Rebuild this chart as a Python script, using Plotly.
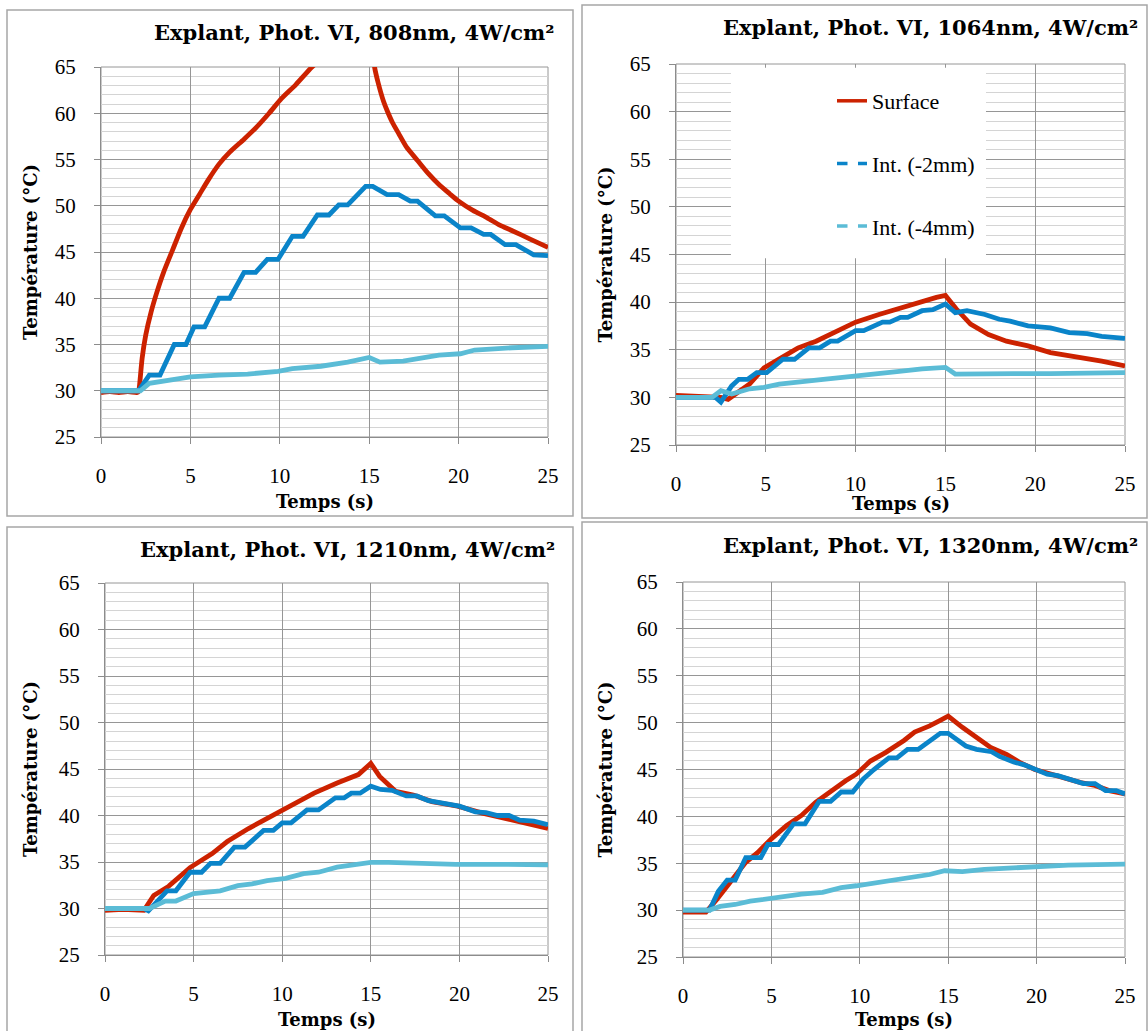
import plotly.graph_objects as go

# ---------------------------------------------------------------------------
# data (time in s, temperature in °C)
# ---------------------------------------------------------------------------
series_names = ["Surface", "Int. (-2mm)", "Int. (-4mm)"]
panel_titles = [
    "Explant, Phot. VI, 808nm, 4W/cm²",
    "Explant, Phot. VI, 1064nm, 4W/cm²",
    "Explant, Phot. VI, 1210nm, 4W/cm²",
    "Explant, Phot. VI, 1320nm, 4W/cm²",
]
x_ticks = [0, 5, 10, 15, 20, 25]
y_ticks = [25, 30, 35, 40, 45, 50, 55, 60, 65]

# 808 nm (surface goes off the top of the chart, peak estimated)
t_808_surf = [0, 0.5, 1.0, 1.5, 2.0, 2.1, 2.15, 2.3, 2.5, 2.8, 3.1, 3.5, 4.0, 4.5, 5.0, 5.5, 6.0,
              6.6, 7.2, 8.0, 8.7, 9.4, 10.1, 10.9, 11.8, 13.0, 14.0, 15.0, 15.3, 15.5, 15.8, 16.0,
              16.3, 16.65, 17.1, 17.7, 18.3, 18.9, 19.5, 20.0, 20.8, 21.6, 22.3, 23.0, 24.0, 25.0]
temp_808_surf = [29.8, 29.9, 29.8, 29.9, 29.8, 29.9, 30.5, 33.5, 36.0, 38.5, 40.5, 42.8, 45.2,
                 47.6, 49.6, 51.2, 52.8, 54.5, 55.8, 57.2, 58.5, 60.0, 61.6, 63.1, 65.0, 67.0,
                 68.6, 70.0, 65.0, 63.3, 61.3, 60.3, 59.0, 57.8, 56.3, 54.9, 53.5, 52.3, 51.3,
                 50.5, 49.5, 48.7, 47.9, 47.3, 46.4, 45.5]
t_808_int2 = [0, 1, 2.1, 2.7, 3.3, 4.1, 4.75, 5.2, 5.8, 6.6, 7.2, 8.0, 8.65, 9.3, 9.9, 10.7, 11.3,
              12.1, 12.75, 13.3, 13.8, 14.8, 15.2, 16.0, 16.65, 17.3, 17.7, 18.7, 19.2, 20.1, 20.7,
              21.4, 21.8, 22.6, 23.2, 24.2, 25.0]
temp_808_int2 = [30.0, 30.0, 30.0, 31.7, 31.7, 35.0, 35.0, 36.9, 36.9, 40.0, 40.0, 42.8, 42.8, 44.2,
                 44.2, 46.7, 46.7, 49.0, 49.0, 50.1, 50.1, 52.1, 52.1, 51.2, 51.2, 50.5, 50.5, 48.9,
                 48.9, 47.6, 47.6, 46.9, 46.9, 45.8, 45.8, 44.7, 44.6]
t_808_int4 = [0, 2.2, 2.7, 3.7, 5.0, 6.6, 8.2, 9.9, 10.7, 12.3, 13.8, 15.0, 15.6, 16.9, 17.9, 18.9,
              20.1, 20.9, 23.0, 25.0]
temp_808_int4 = [30.0, 30.0, 30.8, 31.1, 31.5, 31.7, 31.8, 32.1, 32.4, 32.65, 33.1, 33.6, 33.1, 33.2,
                 33.5, 33.85, 34.0, 34.4, 34.65, 34.8]

# 1064 nm
t_1064_surf = [0, 1, 2.0, 2.5, 2.9, 3.3, 4.1, 4.9, 5.75, 6.8, 7.8, 8.8, 10.0, 11.3, 12.3, 13.5, 14.5,
               15.0, 15.6, 16.4, 17.4, 18.4, 19.6, 20.85, 22.5, 23.7, 25.0]
temp_1064_surf = [30.2, 30.1, 30.1, 30.0, 29.8, 30.35, 31.4, 33.1, 34.0, 35.2, 35.9, 36.8, 37.9, 38.7,
                  39.3, 39.9, 40.5, 40.7, 39.3, 37.7, 36.6, 35.9, 35.4, 34.7, 34.2, 33.8, 33.3]
t_1064_int2 = [0, 2.2, 2.5, 3.1, 3.5, 4.0, 4.5, 5.05, 5.95, 6.6, 7.4, 8.0, 8.6, 9.0, 10.0, 10.45,
               11.5, 11.9, 12.5, 12.9, 13.7, 14.3, 15.0, 15.55, 16.2, 17.2, 18.0, 18.6, 19.6, 20.85,
               21.9, 22.9, 23.7, 25.0]
temp_1064_int2 = [30.0, 30.0, 29.5, 31.2, 31.9, 31.9, 32.6, 32.6, 34.0, 34.0, 35.2, 35.2, 35.9, 35.9,
                  37.0, 37.0, 37.9, 37.9, 38.4, 38.4, 39.1, 39.2, 39.8, 38.9, 39.1, 38.7, 38.2, 38.0,
                  37.5, 37.3, 36.8, 36.7, 36.4, 36.2]
t_1064_int4 = [0, 2.0, 2.5, 3.1, 4.1, 4.9, 5.75, 7.0, 8.2, 9.8, 11.1, 12.3, 13.7, 15.0, 15.55, 16.8,
               18.8, 20.85, 22.9, 25.0]
temp_1064_int4 = [30.0, 30.0, 30.7, 30.35, 30.9, 31.05, 31.4, 31.6, 31.9, 32.2, 32.4, 32.7, 33.0,
                  33.15, 32.45, 32.5, 32.5, 32.5, 32.6, 32.6]

# 1210 nm
t_1210_surf = [0, 1, 2.2, 2.75, 3.6, 4.8, 6.05, 6.9, 8.1, 9.4, 10.6, 11.8, 13.1, 14.3, 15.0, 15.5,
               16.4, 17.4, 18.45, 19.9, 21.3, 22.6, 23.8, 25.0]
temp_1210_surf = [29.8, 29.9, 29.8, 31.4, 32.4, 34.4, 35.9, 37.2, 38.6, 39.9, 41.2, 42.4, 43.5, 44.4,
                  45.6, 44.2, 42.6, 42.2, 41.5, 41.0, 40.25, 39.7, 39.2, 38.6]
t_1210_int2 = [0, 2.2, 2.45, 2.95, 3.5, 4.0, 4.8, 5.45, 5.95, 6.5, 7.3, 7.9, 8.95, 9.5, 10.0, 10.5,
               11.4, 12.05, 13.0, 13.5, 13.9, 14.4, 15.0, 15.55, 16.2, 17.0, 17.6, 18.25, 19.1, 20.0,
               20.9, 21.5, 22.15, 22.8, 23.4, 24.2, 25.0]
temp_1210_int2 = [30.0, 30.0, 29.75, 30.8, 31.9, 31.9, 33.9, 33.9, 34.85, 34.85, 36.6, 36.6, 38.4,
                  38.4, 39.2, 39.2, 40.6, 40.6, 41.9, 41.9, 42.4, 42.4, 43.15, 42.8, 42.7, 42.1, 42.1,
                  41.6, 41.35, 41.0, 40.4, 40.3, 40.0, 40.0, 39.5, 39.4, 39.0]
t_1210_int4 = [0, 2.5, 3.4, 4.0, 5.0, 5.85, 6.5, 7.5, 8.3, 9.15, 10.2, 11.2, 12.05, 13.1, 13.9, 15.0,
               16.0, 17.8, 19.8, 21.95, 25.0]
temp_1210_int4 = [30.0, 30.0, 30.8, 30.8, 31.6, 31.75, 31.9, 32.45, 32.65, 33.0, 33.25, 33.75, 33.9,
                  34.45, 34.65, 34.95, 34.95, 34.85, 34.75, 34.75, 34.7]

# 1320 nm
t_1320_surf = [0, 1.3, 1.9, 2.75, 3.55, 4.2, 5.0, 5.85, 6.7, 7.5, 8.3, 9.2, 9.8, 10.6, 11.45, 12.5,
               13.1, 13.95, 14.55, 15.0, 15.8, 16.6, 17.4, 18.3, 19.1, 19.9, 20.8, 21.6, 22.5, 23.3,
               24.1, 25.0]
temp_1320_surf = [29.8, 29.8, 31.1, 33.1, 35.1, 36.1, 37.6, 39.0, 40.1, 41.5, 42.6, 43.8, 44.5, 45.9,
                  46.8, 48.1, 49.0, 49.65, 50.25, 50.7, 49.5, 48.4, 47.35, 46.6, 45.7, 45.0, 44.5,
                  44.0, 43.6, 43.3, 42.75, 42.4]
t_1320_int2 = [0, 1.5, 2.0, 2.5, 2.95, 3.55, 4.4, 4.8, 5.4, 6.25, 6.9, 7.7, 8.35, 8.95, 9.6, 10.2,
               10.8, 11.65, 12.1, 12.7, 13.3, 14.15, 14.55, 15.0, 16.0, 16.6, 17.45, 17.9, 18.7, 19.3,
               19.95, 20.6, 21.2, 21.8, 22.65, 23.3, 23.9, 24.5, 25.0]
temp_1320_int2 = [30.0, 30.0, 32.0, 33.2, 33.2, 35.6, 35.6, 37.0, 37.0, 39.2, 39.2, 41.6, 41.6, 42.6,
                  42.6, 44.0, 45.0, 46.25, 46.25, 47.15, 47.15, 48.4, 48.85, 48.85, 47.5, 47.15, 46.9,
                  46.4, 45.8, 45.5, 45.0, 44.5, 44.35, 44.0, 43.5, 43.5, 42.75, 42.75, 42.4]
t_1320_int4 = [0, 1.5, 2.1, 2.95, 3.8, 5.0, 5.85, 6.7, 7.9, 8.95, 9.8, 10.8, 11.85, 13.1, 13.95, 14.8,
               15.8, 17.05, 18.3, 19.95, 21.8, 25.0]
temp_1320_int4 = [30.0, 30.0, 30.4, 30.6, 30.95, 31.3, 31.5, 31.7, 31.9, 32.4, 32.6, 32.9, 33.3, 33.6,
                  33.8, 34.2, 34.1, 34.35, 34.5, 34.6, 34.8, 34.9]

panels = [
    [(t_808_surf, temp_808_surf), (t_808_int2, temp_808_int2), (t_808_int4, temp_808_int4)],
    [(t_1064_surf, temp_1064_surf), (t_1064_int2, temp_1064_int2), (t_1064_int4, temp_1064_int4)],
    [(t_1210_surf, temp_1210_surf), (t_1210_int2, temp_1210_int2), (t_1210_int4, temp_1210_int4)],
    [(t_1320_surf, temp_1320_surf), (t_1320_int2, temp_1320_int2), (t_1320_int4, temp_1320_int4)],
]

# ---------------------------------------------------------------------------
# layout (pixel positions of the reference, 1148 x 1031)
# ---------------------------------------------------------------------------
W, H = 1148, 1031
colors = ["#cc2200", "#0a84c9", "#5bbcd6"]
FONT_BOLD = "DejaVu Serif"
FONT_REG = "Liberation Serif"
tick_font = dict(family=FONT_REG, size=21, color="#000")

# plot areas: left, right, top, bottom (px)
plot_px = [(101, 548, 67, 437), (676, 1125, 64, 445), (105, 548, 583, 955), (683, 1125, 582, 957)]
# panel frames
frame_px = [(7, 573, 10, 516), (582, 1147, 5, 518), (7, 573, 527, 1036), (582, 1147, 522, 1036)]
title_pos = [(557, 32), (1140, 28), (557, 549), (1140, 545)]
xtitle_y = [502, 503, 1019, 1019]
ytitle_x = [30, 605, 30, 605]


def px_x(v):
    return v / W


def px_y(v):
    return 1 - v / H


fig = go.Figure()

for i, series in enumerate(panels):
    sfx = "" if i == 0 else str(i + 1)
    for j, (tx, ty) in enumerate(series):
        # the 808 nm surface curve is smooth in the original
        smooth = (i == 0 and j == 0)
        fig.add_trace(go.Scatter(
            x=tx, y=ty, mode="lines",
            line=dict(color=colors[j], width=4.8,
                      shape="spline" if smooth else "linear",
                      smoothing=0.6 if smooth else None),
            showlegend=False, hoverinfo="skip",
            xaxis="x" + sfx, yaxis="y" + sfx,
        ))

    l, r, t, b = plot_px[i]
    axis_common = dict(
        showline=True, linecolor="#8c8c8c", linewidth=1,
        ticks="outside", ticklen=6, tickcolor="#8c8c8c",
        showgrid=True, gridcolor="#969696", gridwidth=1,
        zeroline=False, fixedrange=True, automargin=False,
    )
    fig.layout["xaxis" + sfx] = dict(
        axis_common, domain=[px_x(l), px_x(r)], range=[0, 25],
        tickvals=x_ticks, ticklabelstandoff=14,
        anchor="y" + sfx,
    )
    fig.layout["yaxis" + sfx] = dict(
        axis_common, domain=[px_y(b), px_y(t)], range=[25, 65],
        tickvals=y_ticks, ticklabelstandoff=14,
        minor=dict(dtick=1, tick0=25, showgrid=True, gridcolor="#d4d4d4", gridwidth=1, ticks=""),
        anchor="x" + sfx,
    )

    # frame around each chart
    fl, fr, ft, fb = frame_px[i]
    fig.add_shape(type="rect", xref="paper", yref="paper",
                  x0=px_x(fl), x1=px_x(fr), y0=px_y(fb), y1=px_y(ft),
                  line=dict(color="#a6a6a6", width=1.5), layer="below")

    # plot area top/right border
    fig.add_shape(type="rect", xref="x" + sfx + " domain", yref="y" + sfx + " domain",
                  x0=0, x1=1, y0=0, y1=1, line=dict(color="#969696", width=1), layer="below")

    tx_, ty_ = title_pos[i]
    fig.add_annotation(text="<b>" + panel_titles[i] + "</b>", xref="paper", yref="paper",
                       x=px_x(tx_), y=px_y(ty_), xanchor="right", yanchor="middle",
                       showarrow=False, font=dict(family=FONT_BOLD, size=21, color="#000"))
    fig.add_annotation(text="<b>Temps (s)</b>", xref="paper", yref="paper",
                       x=px_x((l + r) / 2), y=px_y(xtitle_y[i]), xanchor="center", yanchor="middle",
                       showarrow=False, font=dict(family=FONT_BOLD, size=18, color="#000"))
    fig.add_annotation(text="<b>Température (°C)</b>", xref="paper", yref="paper",
                       x=px_x(ytitle_x[i]), y=px_y((t + b) / 2), xanchor="center", yanchor="middle",
                       textangle=-90, showarrow=False, font=dict(family=FONT_BOLD, size=18, color="#000"))

fig.update_xaxes(tickfont=tick_font)
fig.update_yaxes(tickfont=tick_font)

# white legend box in the 1064 nm chart
fig.add_shape(type="rect", xref="x2", yref="y2", x0=3.06, x1=17.26, y0=44.6, y1=64.6,
              fillcolor="white", line=dict(width=0), layer="above")

# legend entries (dashed for the internal probes, as in the original legend)
for j, name in enumerate(series_names):
    fig.add_trace(go.Scatter(
        x=[None], y=[None], mode="lines", name=name,
        line=dict(color=colors[j], width=3.5, dash="solid" if j == 0 else "dash"),
        xaxis="x2", yaxis="y2", legendgroup=name,
    ))

fig.update_layout(
    width=W, height=H,
    margin=dict(l=0, r=0, t=0, b=0),
    paper_bgcolor="white", plot_bgcolor="white",
    font=dict(family=FONT_REG, color="#000"),
    showlegend=True,
    legend=dict(
        x=px_x(832), y=px_y(80), xanchor="left", yanchor="top",
        bgcolor="rgba(0,0,0,0)", borderwidth=0,
        font=dict(family=FONT_REG, size=22, color="#000"),
        tracegroupgap=31, itemwidth=30,
    ),
)

fig.write_html("out.html", config={"displayModeBar": False},
               post_script="document.body.style.margin='0';")
